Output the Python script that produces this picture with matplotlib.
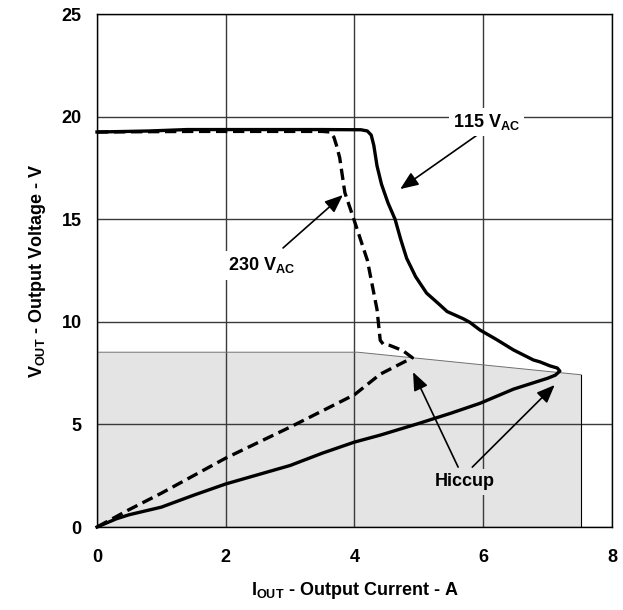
import matplotlib
matplotlib.use("Agg")
import matplotlib.pyplot as plt

plt.rcParams['font.family'] = ['Liberation Sans', 'DejaVu Sans']
plt.rcParams['mathtext.fontset'] = 'custom'
plt.rcParams['mathtext.bf'] = 'Liberation Sans:bold'
plt.rcParams['mathtext.rm'] = 'Liberation Sans:bold'

# 115 VAC (solid) - normal operation then hiccup return
i_115 = [0, 0.8, 1.4, 2.5, 3.5, 4.1, 4.2, 4.26, 4.3, 4.35, 4.42, 4.52, 4.63, 4.72, 4.81,
         4.95, 5.12, 5.3, 5.44, 5.69, 5.79, 5.95, 6.2, 6.47, 6.78, 6.88, 7.04, 7.15, 7.19,
         7.12, 7.0, 6.75, 6.47, 5.95, 5.5, 5.0, 4.4, 4.0, 3.5, 3.0, 2.5, 2.0, 1.5, 1.0,
         0.5, 0.3, 0]
v_115 = [19.25, 19.3, 19.37, 19.37, 19.37, 19.36, 19.3, 19.1, 18.6, 17.6, 16.7, 15.8, 15.0,
         14.0, 13.1, 12.2, 11.4, 10.9, 10.5, 10.15, 9.98, 9.6, 9.15, 8.63, 8.14, 8.05, 7.85,
         7.75, 7.6, 7.4, 7.25, 7.0, 6.72, 6.03, 5.55, 5.05, 4.48, 4.14, 3.6, 3.0, 2.55,
         2.1, 1.55, 0.97, 0.6, 0.4, 0]

# 230 VAC (dashed)
i_230 = [0, 1.5, 2.5, 3.5, 3.62, 3.68, 3.72, 3.77, 3.85, 3.99, 4.2, 4.35, 4.4, 4.45,
         4.55, 4.75, 4.9, 4.4, 4.0, 3.0, 2.0, 1.0, 0.5, 0]
v_230 = [19.25, 19.28, 19.28, 19.28, 19.25, 19.0, 18.6, 18.0, 16.3, 15.0, 13.0, 10.6, 9.1,
         8.9, 8.85, 8.6, 8.25, 7.45, 6.45, 4.87, 3.36, 1.65, 0.85, 0]

# Shaded hiccup region boundary
shade_i = [0, 0, 4.05, 7.52, 7.52]
shade_v = [0, 8.52, 8.52, 7.42, 0]

x_ticks = [0, 2, 4, 6, 8]
y_ticks = [0, 5, 10, 15, 20, 25]

FS = 13

fig = plt.figure(figsize=(6.23, 6.10), dpi=100)
ax = fig.add_axes([0.1557, 0.136, 0.8266, 0.841])

ax.fill(shade_i, shade_v, color='#e4e4e4', lw=0, zorder=0)
ax.plot(shade_i[1:4], shade_v[1:4], color='#707070', lw=0.7, zorder=1)
ax.plot(shade_i[3:5], shade_v[3:5], color='black', lw=0.8, zorder=1)

ax.set_xlim(0, 8)
ax.set_ylim(0, 25)
ax.set_xticks(x_ticks)
ax.set_yticks(y_ticks)
ax.grid(True, color='#3a3a3a', lw=1.0, zorder=0.5)
ax.set_axisbelow(True)
ax.tick_params(length=0, labelsize=FS, pad=0)
ax.tick_params(axis='x', pad=16)
ax.tick_params(axis='y', pad=11)
for lab in ax.get_xticklabels() + ax.get_yticklabels():
    lab.set_fontweight('bold')
for s in ax.spines.values():
    s.set_color('black')
    s.set_linewidth(1.0)

ax.plot(i_115, v_115, color='black', lw=2.4, solid_joinstyle='round', zorder=3, clip_on=False)
ax.plot(i_230, v_230, color='black', lw=2.4, ls=(0, (3.4, 1.7)), zorder=3, clip_on=False)

ax.set_xlabel(r'I$_\mathbf{OUT}$ - Output Current - A', fontsize=FS, fontweight='bold', labelpad=10)
ax.set_ylabel(r'V$_\mathbf{OUT}$ - Output Voltage - V', fontsize=FS, fontweight='bold', labelpad=10)

ap = dict(arrowstyle='-|>,head_length=1.1,head_width=0.45', lw=1.2, color='black',
          shrinkA=0, shrinkB=0)
ax.annotate('', xy=(4.71, 16.47), xytext=(5.95, 19.2), arrowprops=ap, zorder=4)
ax.text(6.05, 19.75, r'115 V$_\mathbf{AC}$', fontsize=FS, fontweight='bold', ha='center', va='center',
        bbox=dict(fc='white', ec='none', pad=3), zorder=4)

ax.annotate('', xy=(3.82, 16.18), xytext=(2.89, 13.6), arrowprops=ap, zorder=4)
ax.text(2.55, 12.75, r'230 V$_\mathbf{AC}$', fontsize=FS, fontweight='bold', ha='center', va='center',
        bbox=dict(fc='white', ec='none', pad=3), zorder=4)

ax.annotate('', xy=(4.91, 7.55), xytext=(5.61, 2.92), arrowprops=ap, zorder=4)
ax.annotate('', xy=(7.11, 6.92), xytext=(5.83, 2.92), arrowprops=ap, zorder=4)
ax.text(5.72, 2.2, 'Hiccup', fontsize=FS, fontweight='bold', ha='center', va='center',
        bbox=dict(fc='#e4e4e4', ec='none', pad=3), zorder=4)

fig.savefig('out.png', dpi=100)
